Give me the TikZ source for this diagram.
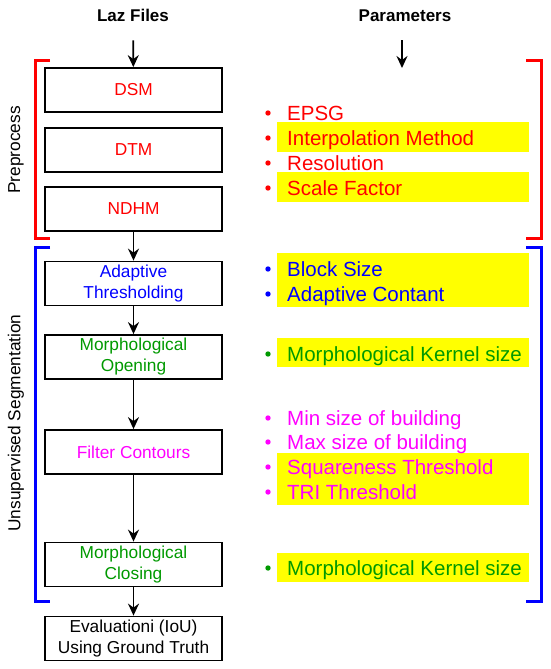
\documentclass[tikz,border=0pt]{standalone}
\usepackage{fontspec}
\setmainfont{Liberation Sans}
\usetikzlibrary{arrows.meta}
\definecolor{preRed}{RGB}{255,0,0}
\definecolor{segBlue}{RGB}{0,0,255}
\definecolor{morphGreen}{RGB}{0,153,0}
\definecolor{filterPink}{RGB}{255,0,255}
\definecolor{markYellow}{RGB}{255,255,0}
\begin{document}
\begin{tikzpicture}[x=1pt, y=-1pt,
  box/.style={draw, line width=1.8pt, minimum width=177pt, minimum height=44pt, inner sep=0pt, align=center, font=\fontsize{17.3}{21}\selectfont},
  head/.style={inner sep=0pt, font=\fontsize{17}{20}\selectfont\bfseries},
  side/.style={rotate=90, inner sep=0pt, font=\fontsize{17.3}{20}\selectfont},
  flow/.style={-{Stealth[length=12pt, width=11pt, inset=4pt]}, line width=1.8pt},
  param/.style={anchor=base west, inner sep=0pt, font=\fontsize{20.5}{24}\selectfont},
  bracket/.style={line width=3pt}]
  \useasboundingbox (0,0) rectangle (550,669);

  % Column heads
  \node[head, anchor=base] (laz) at (133,22) {Laz Files};
  \node[head, anchor=base] (params) at (405,22) {Parameters};
  \coordinate (parin) at (402,68);

  % Yellow highlights behind the parameters
  \fill[markYellow] (277,122) rectangle (529,152);
  \fill[markYellow] (277,172) rectangle (529,202);
  \fill[markYellow] (277,253) rectangle (529,307);
  \fill[markYellow] (277,338) rectangle (529,367);
  \fill[markYellow] (277,453) rectangle (529,505);
  \fill[markYellow] (277,553) rectangle (529,582);

  % Processing steps
  \node[box, text=preRed] (dsm) at (133.5,90) {DSM};
  \node[box, text=preRed] (dtm) at (133.5,150) {DTM};
  \node[box, text=preRed] (ndhm) at (133.5,209) {NDHM};
  \node[box, text=segBlue] (adapt) at (133.5,283.5) {Adaptive\\Thresholding};
  \node[box, text=morphGreen] (open) at (133.5,357) {Morphological\\Opening};
  \node[box, text=filterPink] (filter) at (133.5,452) {Filter Contours};
  \node[box, text=morphGreen] (close) at (133.5,564.5) {Morphological\\Closing};
  \node[box] (eval) at (133.5,638.5) {Evaluationi (IoU)\\Using Ground Truth};

  % Flow arrows
  \draw[flow, shorten <=18pt] (laz) -- (dsm);
  \draw[flow, shorten <=18pt] (params.south -| parin) -- (parin);
  \draw[flow] (ndhm) -- (adapt);
  \draw[flow] (adapt) -- (open);
  \draw[flow] (open) -- (filter);
  \draw[flow] (filter) -- (close);
  \draw[flow] (close) -- (eval);

  % Parameter lists
  \foreach \y/\c/\t [count=\i] in {120/preRed/EPSG, 145/preRed/Interpolation Method,
      170/preRed/Resolution, 195/preRed/Scale Factor,
      276/segBlue/Block Size, 301/segBlue/Adaptive Contant,
      361/morphGreen/Morphological Kernel size,
      425/filterPink/Min size of building, 449/filterPink/Max size of building,
      474/filterPink/Squareness Threshold, 499/filterPink/TRI Threshold,
      575/morphGreen/Morphological Kernel size} {
    \fill[\c] (268,\y-7) circle (2.7);
    \node[param, text=\c] (p\i) at (287,\y) {\t};
  }

  % Stage brackets
  \draw[bracket, preRed] (50,61) -- (35,61) -- (35,238) -- (50,238);
  \draw[bracket, preRed] (526,61) -- (541,61) -- (541,238) -- (526,238);
  \draw[bracket, segBlue] (50,247) -- (35,247) -- (35,601) -- (50,601);
  \draw[bracket, segBlue] (526,247) -- (541,247) -- (541,601) -- (526,601);
  \node[side] (pre) at (16,150) {Preprocess};
  \node[side] (seg) at (16,423) {Unsupervised Segmentation};
\end{tikzpicture}
\end{document}
